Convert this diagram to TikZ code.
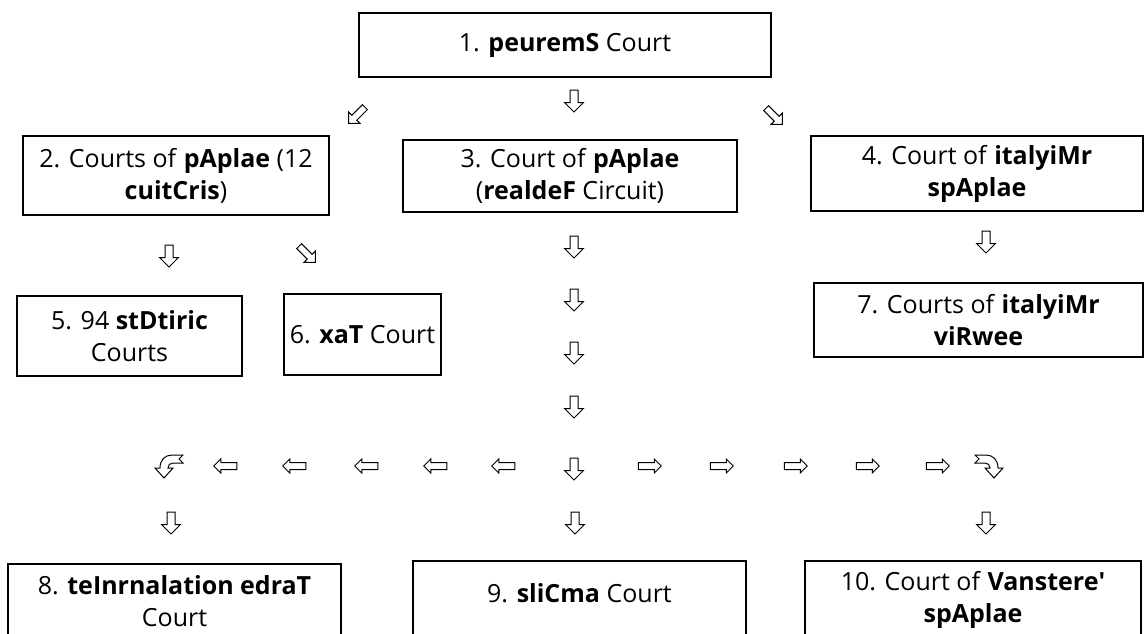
\documentclass[tikz,border=0pt]{standalone}
\usepackage{fontspec}
\setmainfont{Open Sans}
\usetikzlibrary{shapes.arrows}

\tikzset{
    pics/curlarrow/.style={code={
        \draw[line width=1pt, fill=white, line join=miter]
            (15,-11) -- (4,-11) .. controls (-3,-11) and (-8,-6) .. (-8,2)
            -- (-13,2) -- (-4,12) -- (5,2) -- (0,2)
            .. controls (0,-1) and (2,-3) .. (5,-3) -- (15,-3) -- (11,-7)
            -- cycle;
    }}
}

\begin{document}
\begin{tikzpicture}[x=1pt, y=-1pt]
    \tikzstyle{rec} = [rectangle, draw=black, line width=2.2pt, align=center,
        inner sep=0pt, font=\fontsize{25}{32}\selectfont, fill=white]
    \tikzstyle{rtarrow} = [single arrow, draw=black, fill=white, line width=1pt,
        inner sep=0pt, inner ysep=3pt, minimum height=23pt, minimum width=13pt,
        single arrow head extend=3.5pt]
    \tikzstyle{lfarrow} = [rtarrow, rotate=180]
    \tikzstyle{dnarrow} = [rtarrow, inner ysep=3.5pt, minimum height=22pt,
        minimum width=18pt, single arrow head extend=5.5pt, rotate=-90]
    \tikzstyle{diagarrow} = [rtarrow, inner ysep=3pt, minimum height=23pt,
        minimum width=15pt, single arrow head extend=4.5pt]

    \useasboundingbox (0,0) rectangle (1144,633);
    \clip (0,0) rectangle (1144,633);

    \node(supreme) [rec, minimum width=412, minimum height=64]
        at (565,45)
        {1. \textbf{peuremS} Court};
    \node(appeals) [rec, minimum width=306, minimum height=79]
        at (176,175.5)
        {2. Courts of \textbf{pAplae} (12\\ \textbf{cuitCris})};
    \node(federal) [rec, minimum width=334, minimum height=72]
        at (570,176)
        {3. Court of \textbf{pAplae}\\ (\textbf{realdeF} Circuit)};
    \node(military) [rec, minimum width=332, minimum height=75]
        at (977,173.5)
        {4. Court of \textbf{italyiMr}\\ \textbf{spAplae}};
    \node(district) [rec, minimum width=225, minimum height=80]
        at (129.5,336)
        {5. 94 \textbf{stDtiric}\\ Courts};
    \node(tax) [rec, minimum width=157, minimum height=81]
        at (362.5,334.5)
        {6. \textbf{xaT} Court};
    \node(review) [rec, minimum width=329, minimum height=74]
        at (978.5,320)
        {7. Courts of \textbf{italyiMr}\\ \textbf{viRwee}};
    \node(trade) [rec, minimum width=333, minimum height=75]
        at (174.5,563) [anchor=north]
        {8. \textbf{teInrnalation edraT}\\ Court};
    \node(claims) [rec, minimum width=333, minimum height=80, text depth=16pt]
        at (579.5,560) [anchor=north]
        {9. \textbf{sliCma} Court};
    \node(veterans) [rec, minimum width=336, minimum height=78]
        at (973,560) [anchor=north]
        {10. Court of \textbf{Vanstere\textquotesingle}\\ \textbf{spAplae}};

    % arrows below the supreme court
    \node(suptoapp) [diagarrow, rotate=-135] at (358,114) {};
    \node(suptofed) [dnarrow] at (574,99) {};
    \node(suptomil) [diagarrow, rotate=-45] at (773,115) {};

    \node(apptodis) [dnarrow] at (169,254) {};
    \node(apptotax) [diagarrow, rotate=-45] at (306,253) {};
    \node(miltorev) [dnarrow] at (986,240) {};

    % federal circuit column
    \foreach \y [count=\i] in {245,298,351,405}
        \node(fed\i) [dnarrow] at (574,\y) {};
    \node(split) [dnarrow] at (574,467) {};
    \foreach \x [count=\i] in {227,296,368,437,505}
        \node(left\i) [lfarrow] at (\x,466) {};
    \foreach \x [count=\i] in {648,720,794,866,936}
        \node(right\i) [rtarrow] at (\x,466) {};
    \pic at (168,466) {curlarrow};
    \pic[xscale=-1] at (990,466) {curlarrow};

    \node(totrade) [dnarrow] at (171,521) {};
    \node(toclaims) [dnarrow] at (575,521) {};
    \node(tovets) [dnarrow] at (986,521) {};
\end{tikzpicture}
\end{document}
